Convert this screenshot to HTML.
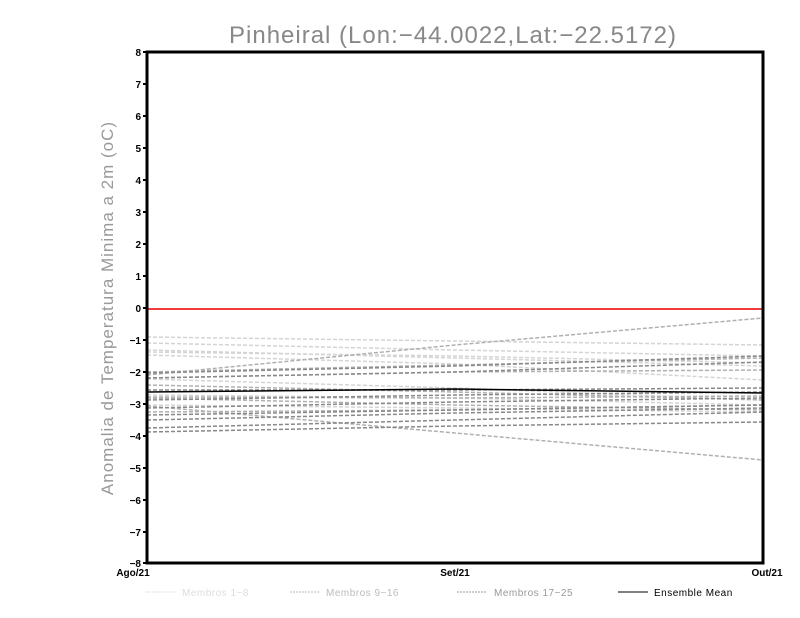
<!DOCTYPE html>
<html><head><meta charset="utf-8"><style>
html,body{margin:0;padding:0;background:#fff;width:800px;height:618px;overflow:hidden}
</style></head><body>
<svg width="800" height="618" xmlns="http://www.w3.org/2000/svg" font-family="Liberation Sans, sans-serif">
<text x="453" y="43" text-anchor="middle" font-size="24" fill="#888" letter-spacing="1">Pinheiral (Lon:−44.0022,Lat:−22.5172)</text>
<text transform="translate(113,308) rotate(-90)" text-anchor="middle" font-size="17" fill="#999" letter-spacing="1">Anomalia de Temperatura Minima a 2m (oC)</text>
<g font-size="10" font-weight="bold" text-anchor="end" fill="#000">
<text x="141" y="56">8</text><text x="141" y="88">7</text><text x="141" y="120">6</text><text x="141" y="152">5</text><text x="141" y="184">4</text><text x="141" y="216">3</text><text x="141" y="248">2</text><text x="141" y="280">1</text><text x="141" y="312">0</text><text x="141" y="344">−1</text><text x="141" y="376">−2</text><text x="141" y="408">−3</text><text x="141" y="440">−4</text><text x="141" y="472">−5</text><text x="141" y="504">−6</text><text x="141" y="536">−7</text><text x="141" y="567">−8</text>
</g>
<g stroke="#000" stroke-width="2">
<path d="M143 52h4M143 84h4M143 116h4M143 148h4M143 180h4M143 212h4M143 244h4M143 276h4M143 308h4M143 340h4M143 372h4M143 404h4M143 436h4M143 468h4M143 500h4M143 532h4M143 563h4"/>
</g>
<g stroke-dasharray="4,2" stroke-width="1.5" fill="none">
<g stroke="#d4d4d4">
<polyline points="147,337 455,341 763,345"/><polyline points="147,343 455,350 763,356"/><polyline points="147,350 455,358 763,366"/><polyline points="147,355 455,364 763,380"/><polyline points="147,379 455,388 763,400"/><polyline points="147,395 455,398 763,405"/><polyline points="147,352 455,356 763,363"/><polyline points="147,405 455,408 763,412"/>
</g>
<g stroke="#b0b0b0">
<polyline points="147,375 455,345 763,318"/><polyline points="147,372 455,365 763,358"/><polyline points="147,378 455,372 763,370"/><polyline points="147,385 455,392 763,400"/><polyline points="147,398 455,405 763,410"/><polyline points="147,412 455,410 763,405"/><polyline points="147,406 455,433 763,460"/><polyline points="147,397 455,398 763,396"/>
</g>
<g stroke="#888">
<polyline points="147,373 455,366 763,356"/><polyline points="147,378 455,372 763,362"/><polyline points="147,390 455,390 763,388"/><polyline points="147,400 455,395 763,392"/><polyline points="147,408 455,402 763,398"/><polyline points="147,415 455,410 763,405"/><polyline points="147,420 455,413 763,408"/><polyline points="147,428 455,420 763,412"/><polyline points="147,432 455,426 763,422"/>
</g>
</g>
<polyline points="147,392 455,389 763,393" stroke="#000" stroke-width="1.5" fill="none"/>
<line x1="147" y1="309" x2="763" y2="309" stroke="#f03c3c" stroke-width="2"/>
<rect x="147" y="52" width="616" height="511" fill="none" stroke="#000" stroke-width="3"/>
<g font-size="10" font-weight="bold" text-anchor="middle">
<text x="133" y="576">Ago/21</text><text x="455" y="576">Set/21</text><text x="767" y="576">Out/21</text>
</g>
<g font-size="10" stroke-dasharray="2,1">
<line x1="146" y1="592" x2="176" y2="592" stroke="#ddd"/>
<line x1="290" y1="592" x2="320" y2="592" stroke="#bbb"/>
<line x1="457" y1="592" x2="487" y2="592" stroke="#999"/>
</g>
<line x1="618" y1="592" x2="648" y2="592" stroke="#000"/>
<g font-size="10" letter-spacing="0.5">
<text x="182" y="596" fill="#ddd">Membros 1−8</text>
<text x="326" y="596" fill="#bbb">Membros 9−16</text>
<text x="494" y="596" fill="#999">Membros 17−25</text>
<text x="654" y="596" fill="#000">Ensemble Mean</text>
</g>
</svg>
</body></html>
